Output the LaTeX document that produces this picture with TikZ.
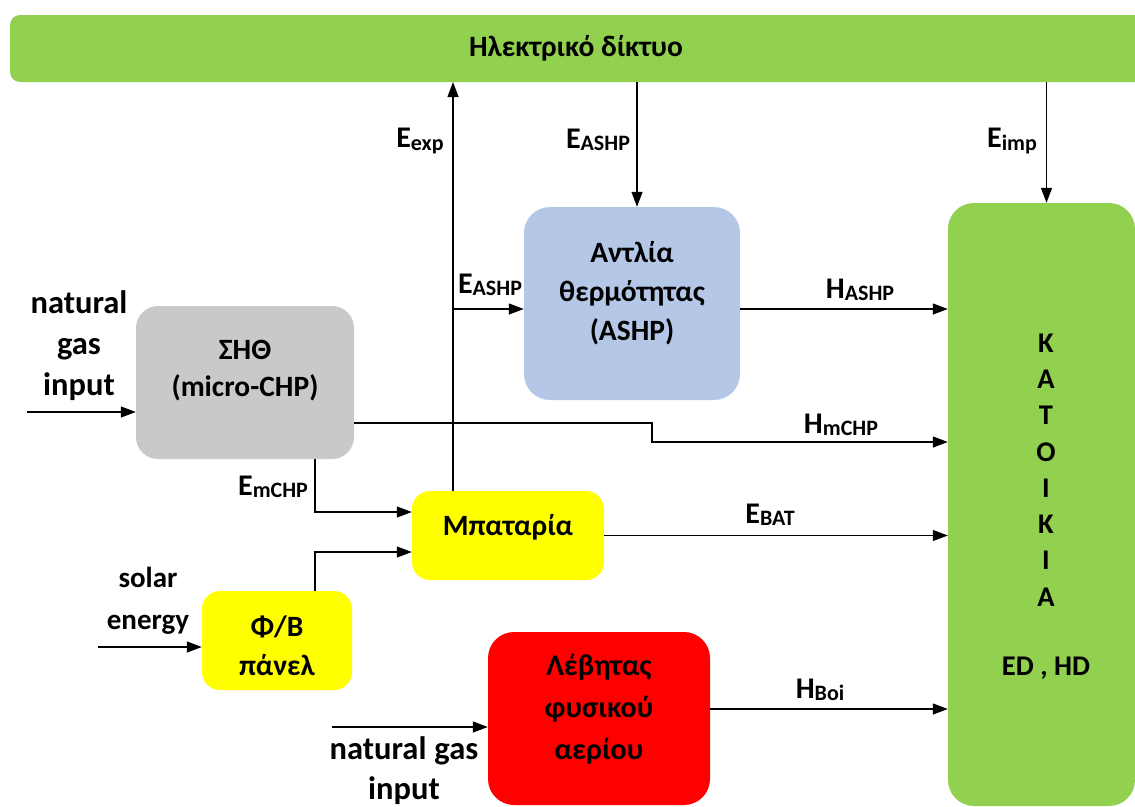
\documentclass[tikz,border=0pt]{standalone}
\usepackage{fontspec}
\setmainfont{Carlito}
\usetikzlibrary{arrows.meta}
\definecolor{netgreen}{HTML}{92D050}
\definecolor{hpblue}{HTML}{B4C7E7}
\definecolor{chpgray}{HTML}{C9C9C9}
\definecolor{batyellow}{HTML}{FFFF00}
\definecolor{boilred}{HTML}{FF0000}
% energy flow label: E (or H) with a smaller lowered index
\newcommand{\flowlab}[2]{{\fontsize{30}{30}\selectfont #1}{\fontsize{22}{22}\selectfont\raisebox{-2pt}{#2}}}
\begin{document}
\begin{tikzpicture}[x=1pt,y=-1pt,
  every node/.style={font=\bfseries\fontsize{29.5}{40}\selectfont, inner sep=0pt},
  txt/.style={align=center},
  flow/.style={line width=1.2pt, -{Triangle[length=15pt,width=11pt]}}]
\useasboundingbox (0,0) rectangle (1135,806);

% blocks
\fill[netgreen, rounded corners=10pt] (10,15) rectangle (1150,82);
\node (grid) at (576,82) [anchor=south, minimum width=1130pt, minimum height=67pt] {};
\node (gridtxt) at (576,48) {Ηλεκτρικό δίκτυο};

\node (house) [fill=netgreen, rounded corners=26pt, minimum width=187pt, minimum height=603pt] at (1041.5,504.5) {};
\node (ashp)  [fill=hpblue, rounded corners=26pt, minimum width=216pt, minimum height=193pt] at (632,303.5) {};
\node (chp)   [fill=chpgray, rounded corners=22pt, minimum width=218pt, minimum height=153pt] at (245,382.5) {};
\node (bat)   [fill=batyellow, rounded corners=18pt, minimum width=192pt, minimum height=89pt] at (508,535.5) {};
\node (pv)    [fill=batyellow, rounded corners=18pt, minimum width=150pt, minimum height=99pt] at (277,640.5) {};
\node (boil)  [fill=boilred, rounded corners=26pt, minimum width=222pt, minimum height=173pt] at (599,718.5) {};

% block texts
\node (ashptxt) [txt, text width=210pt, font=\bfseries\fontsize{29.5}{39}\selectfont] at (632,293) {Αντλία\\θερμότητας\\(ASHP)};
\node (chptxt)  [txt, text width=210pt, font=\bfseries\fontsize{29.5}{37}\selectfont] at (245,371) {ΣΗΘ\\(micro-CHP)};
\node (battxt)  at (508,527) {Μπαταρία};
\node (pvtxt)   [txt, text width=140pt, font=\bfseries\fontsize{29.5}{39}\selectfont] at (277,646) {Φ/Β\\πάνελ};
\node (boiltxt) [txt, text width=210pt, font=\bfseries\fontsize{30}{42}\selectfont] at (599,709) {Λέβητας\\φυσικού\\αερίου};
\node (housetxt) [txt, text width=60pt, font=\bfseries\fontsize{28.5}{36.3}\selectfont] at (1046,470) {Κ\\Α\\Τ\\Ο\\Ι\\Κ\\Ι\\Α};
\node (hdtxt) [font=\bfseries\fontsize{28.5}{30}\selectfont] at (1046,668) {ED , HD};

% outside inputs
\node (gas1txt) [txt, text width=120pt, font=\bfseries\fontsize{32.5}{41}\selectfont] at (79,346) {natural\\gas\\input};
\node (soltxt)  [txt, text width=120pt, font=\bfseries\fontsize{29}{42}\selectfont] at (148,601) {solar\\energy};
\node (gas2txt) [txt, text width=200pt, font=\bfseries\fontsize{32.5}{40}\selectfont] at (404,771) {natural\hspace{8pt}gas\\input};

\coordinate (gas1) at (27,412);
\coordinate (sol) at (98,647);
\coordinate (gas2) at (332,727);
\draw[flow] (gas1) -- (gas1 -| chp.west);
\draw[flow] (sol) -- (sol -| pv.west);
\draw[flow] (gas2) -- (gas2 -| boil.west);

% connectors
\coordinate (expx) at (453,491);
\coordinate (tap) at (453,309);
\draw[flow] (expx |- bat.north) -- (expx |- grid.south);
\draw[flow] (tap) -- (tap -| ashp.west);
\draw[flow] ([xshift=5pt]ashp.north |- grid.south) -- ([xshift=5pt]ashp.north);
\draw[flow] ([xshift=5pt]house.north |- grid.south) -- ([xshift=5pt]house.north);
\draw[flow] (ashp.east |- tap) -- (tap -| house.west);

\coordinate (hmA) at (652,423);
\coordinate (hmB) at (652,442);
\draw[flow] (chp.east |- hmA) -- (hmA) -- (hmB) -- (hmB -| house.west);

\coordinate (emc) at (315,512);
\draw[flow] (chp.south -| emc) -- (emc) -- (emc -| bat.west);
\coordinate (pvc) at (315,552);
\draw[flow] (pv.north -| pvc) -- (pvc) -- (pvc -| bat.west);

\draw[flow] (bat.east) -- (bat.east -| house.west);
\coordinate (hb) at (710,709);
\draw[flow] (boil.east |- hb) -- (hb -| house.west);

% flow labels
\node (lexp)   at (420,141) {\flowlab{E}{exp}};
\node (lashp1) at (598,140) {\flowlab{E}{ASHP}};
\node (limp)   at (1012,141) {\flowlab{E}{imp}};
\node (lashp2) at (490,285) {\flowlab{E}{ASHP}};
\node (lhashp) at (860,290) {\flowlab{H}{ASHP}};
\node (lhmchp) at (841,425) {\flowlab{H}{mCHP}};
\node (lemchp) at (273,487) {\flowlab{E}{mCHP}};
\node (lbat)   at (770,515) {\flowlab{E}{BAT}};
\node (lboi)   at (820,690) {\flowlab{H}{Boi}};
\end{tikzpicture}
\end{document}
